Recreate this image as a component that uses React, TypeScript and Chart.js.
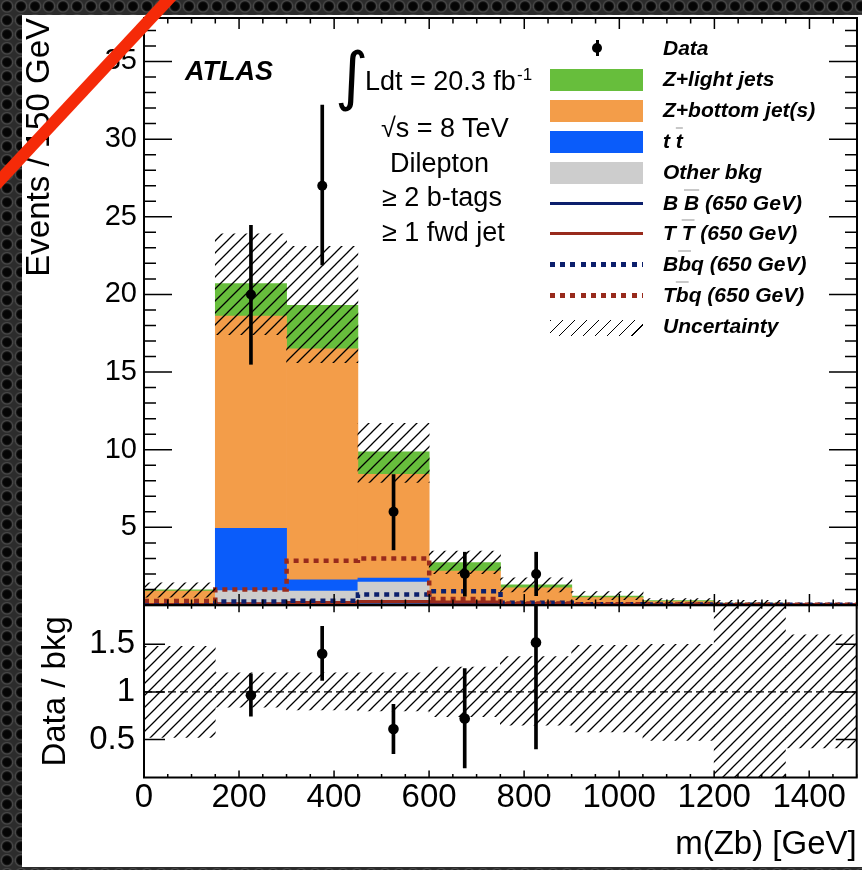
import React, { useEffect, useRef } from 'react';
import { Chart, registerables } from 'chart.js';
Chart.register(...registerables);

const FONT = "'Liberation Sans', Arial, Helvetica, sans-serif";

// ---- binning (GeV) ----
const binEdges = [0, 150, 300, 450, 600, 750, 900, 1050, 1200, 1350, 1500];
const binCenters = [75, 225, 375, 525, 675, 825, 975, 1125, 1275, 1425];

// ---- stacked backgrounds (events / bin) ----
const otherBkg = [0.05, 0.93, 0.89, 1.47, 0.10, 0.05, 0.02, 0.01, 0.01, 0.00];
const ttbar = [0.02, 4.01, 0.73, 0.27, 0.05, 0.03, 0.01, 0.00, 0.00, 0.00];
const zBottom = [0.82, 13.66, 14.88, 6.68, 2.04, 1.02, 0.44, 0.21, 0.08, 0.04];
const zLight = [0.08, 2.09, 2.80, 1.45, 0.54, 0.20, 0.11, 0.06, 0.03, 0.01];

// ---- total background uncertainty band ----
const uncLow = [0.50, 17.4, 15.6, 7.9, 2.02, 0.85, 0.34, 0.14, 0.0, 0.02];
const uncHigh = [1.42, 23.9, 23.1, 11.7, 3.48, 1.75, 0.87, 0.42, 0.3, 0.08];

// ---- signals (650 GeV) ----
const sigBB = [0.02, 0.05, 0.12, 0.18, 0.15, 0.08, 0.04, 0.02, 0.01, 0.01];
const sigTT = [0.03, 0.08, 0.16, 0.22, 0.20, 0.10, 0.04, 0.02, 0.01, 0.01];
const sigBbq = [0.05, 0.22, 0.28, 0.68, 0.88, 0.15, 0.05, 0.03, 0.02, 0.01];
const sigTbq = [0.25, 1.00, 2.85, 3.00, 0.38, 0.10, 0.05, 0.03, 0.02, 0.01];

// ---- data ----
const dataX = [225, 375, 525, 675, 825];
const dataY = [20, 27, 6, 2, 2];
const dataLow = [15.5, 21.9, 3.55, 0.57, 0.6];
const dataHigh = [24.45, 32.2, 8.4, 3.4, 3.4];

// ---- ratio panel ----
const ratioY = [0.965, 1.40, 0.61, 0.72, 1.52];
const ratioLow = [0.745, 1.12, 0.35, 0.20, 0.40];
const ratioHigh = [1.19, 1.69, 0.87, 1.245, 2.4];
const ratioBandLow = [0.52, 0.84, 0.81, 0.80, 0.74, 0.65, 0.58, 0.49, 0.0, 0.41];
const ratioBandHigh = [1.48, 1.20, 1.20, 1.20, 1.26, 1.37, 1.49, 1.50, 2.5, 1.60];

// ---- ticks ----
const xTickLabels = [0, 200, 400, 600, 800, 1000, 1200, 1400];
const yTicksUpper = [5, 10, 15, 20, 25, 30, 35];
const yTicksLower = [0.5, 1, 1.5];

const COL = {
  green: '#67be3c',
  orange: '#f39d49',
  blue: '#0a5cfa',
  gray: '#cdcdcd',
  navy: '#0c1f6c',
  red: '#982a1c',
};

function makeHatch(): CanvasPattern {
  const s = 12;
  const c = document.createElement('canvas');
  c.width = s;
  c.height = s;
  const g = c.getContext('2d')!;
  g.strokeStyle = '#000';
  g.lineWidth = 1.3;
  g.beginPath();
  g.moveTo(-2, s + 2); g.lineTo(s + 2, -2);
  g.moveTo(-2, 2); g.lineTo(2, -2);
  g.moveTo(s - 2, s + 2); g.lineTo(s + 2, s - 2);
  g.stroke();
  return g.createPattern(c, 'repeat')!;
}

type FrameCfg = {
  xMajor: number[]; xMinor: number[]; xMajorLen: number; xMinorLen: number;
  yMajor: number[]; yMinor: number[]; yMajorLen: number; yMinorLen: number;
};

const range = (a: number, b: number, st: number) => {
  const out: number[] = [];
  for (let v = a; v <= b + 1e-9; v += st) out.push(Math.round(v * 1000) / 1000);
  return out;
};

function framePlugin(cfg: FrameCfg) {
  return {
    id: 'rootFrame',
    afterDatasetsDraw(chart: any) {
      const { ctx, chartArea: a } = chart;
      const xs = chart.scales.x;
      const ys = chart.scales.y;
      ctx.save();
      ctx.strokeStyle = '#000';
      ctx.lineWidth = 1.5;
      ctx.beginPath();
      const vt = (v: number, len: number) => {
        const p = xs.getPixelForValue(v);
        ctx.moveTo(p, a.bottom); ctx.lineTo(p, a.bottom - len);
        ctx.moveTo(p, a.top); ctx.lineTo(p, a.top + len);
      };
      const ht = (v: number, len: number) => {
        const p = ys.getPixelForValue(v);
        if (p < a.top - 0.5 || p > a.bottom + 0.5) return;
        ctx.moveTo(a.left, p); ctx.lineTo(a.left + len, p);
        ctx.moveTo(a.right, p); ctx.lineTo(a.right - len, p);
      };
      cfg.xMinor.forEach((v) => vt(v, cfg.xMinorLen));
      cfg.xMajor.forEach((v) => vt(v, cfg.xMajorLen));
      cfg.yMinor.forEach((v) => ht(v, cfg.yMinorLen));
      cfg.yMajor.forEach((v) => ht(v, cfg.yMajorLen));
      ctx.stroke();
      ctx.lineWidth = 2;
      ctx.strokeRect(a.left, a.top, a.right - a.left, a.bottom - a.top);
      ctx.restore();
    },
  };
}

const stepData = (vals: number[]) =>
  binEdges.map((e, i) => ({ x: e, y: vals[Math.min(i, vals.length - 1)] }));

const barDs = (vals: number[], color: string, stack: string) => ({
  type: 'bar' as const,
  data: binCenters.map((x, i) => ({ x, y: vals[i] })),
  backgroundColor: color,
  borderWidth: 0,
  stack,
  grouped: false,
  barPercentage: 1,
  categoryPercentage: 1,
});

const lineDs = (vals: number[], color: string, width: number, dash: number[], stack: string) => ({
  type: 'line' as const,
  data: stepData(vals),
  borderColor: color,
  borderWidth: width,
  borderDash: dash,
  borderCapStyle: 'butt' as const,
  stepped: 'before' as const,
  pointRadius: 0,
  fill: false,
  stack,
});

const fixY = (w: number) => (s: any) => { s.width = w; s.paddingTop = 0; s.paddingBottom = 0; };

export default function App() {
  const upRef = useRef<HTMLCanvasElement>(null);
  const loRef = useRef<HTMLCanvasElement>(null);

  useEffect(() => {
    Chart.defaults.font.family = FONT;
    Chart.defaults.color = '#000';
    const hatch = makeHatch();

    const upper = new Chart(upRef.current!, {
      type: 'bar',
      data: {
        datasets: [
          {
            type: 'line',
            data: dataX.map((x, i) => ({ x, y: dataY[i] })),
            showLine: false,
            pointRadius: 5,
            pointBackgroundColor: '#000',
            pointBorderColor: '#000',
            pointBorderWidth: 0,
            stack: 'pts',
          },
          {
            type: 'bar',
            data: dataX.map((x, i) => ({ x, y: [dataLow[i], dataHigh[i]] })),
            backgroundColor: '#000',
            borderWidth: 0,
            barThickness: 3,
            grouped: false,
            stack: 'err',
          },
          {
            type: 'bar',
            data: binCenters.map((x, i) => ({ x, y: [uncLow[i], uncHigh[i]] })),
            backgroundColor: hatch,
            borderWidth: 0,
            grouped: false,
            barPercentage: 1,
            categoryPercentage: 1,
            stack: 'unc',
          },
          lineDs(sigTbq, COL.red, 4.5, [5, 5], 'tbq'),
          lineDs(sigBbq, COL.navy, 4.5, [5, 5], 'bbq'),
          lineDs(sigTT, COL.red, 3, [], 'tt'),
          lineDs(sigBB, COL.navy, 3, [], 'bb'),
          barDs(otherBkg, COL.gray, 'bg'),
          barDs(ttbar, COL.blue, 'bg'),
          barDs(zBottom, COL.orange, 'bg'),
          barDs(zLight, COL.green, 'bg'),
        ] as any,
      },
      options: {
        animation: false,
        responsive: false,
        devicePixelRatio: 1,
        events: [],
        layout: { padding: { top: 18, right: 4, bottom: 4, left: 0 } },
        plugins: { legend: { display: false }, tooltip: { enabled: false } },
        scales: {
          x: {
            type: 'linear', min: 0, max: 1500, offset: false, display: false,
            grid: { display: false, offset: false },
            ticks: { stepSize: 200 },
            afterBuildTicks: (s: any) => { s.ticks = xTickLabels.map((v) => ({ value: v })); },
          },
          y: {
            type: 'linear', min: 0, max: 37.8, stacked: true,
            grid: { display: false, drawTicks: false },
            border: { display: false },
            afterFit: fixY(144),
            afterBuildTicks: (s: any) => { s.ticks = yTicksUpper.map((v) => ({ value: v })); },
            ticks: { font: { size: 29, family: FONT }, color: '#000', padding: 7, autoSkip: false, callback: (v: any) => String(v) },
            title: {
              display: true, text: 'Events / 150 GeV', align: 'end', color: '#000',
              font: { size: 33, family: FONT }, padding: { top: 20, bottom: 0 },
            },
          },
        } as any,
      },
      plugins: [framePlugin({
        xMajor: xTickLabels, xMinor: range(0, 1500, 50), xMajorLen: 11, xMinorLen: 5.5,
        yMajor: range(0, 35, 5), yMinor: range(0, 37, 1), yMajorLen: 28, yMinorLen: 12,
      })],
    });

    const lower = new Chart(loRef.current!, {
      type: 'bar',
      data: {
        datasets: [
          {
            type: 'line',
            data: dataX.map((x, i) => ({ x, y: ratioY[i] })),
            showLine: false,
            pointRadius: 5.3,
            pointBackgroundColor: '#000',
            pointBorderColor: '#000',
            pointBorderWidth: 0,
          },
          {
            type: 'bar',
            data: dataX.map((x, i) => ({ x, y: [ratioLow[i], ratioHigh[i]] })),
            backgroundColor: '#000',
            borderWidth: 0,
            barThickness: 3,
            grouped: false,
            stack: 'err',
          },
          {
            type: 'line',
            data: [{ x: 0, y: 1 }, { x: 1500, y: 1 }],
            borderColor: '#000',
            borderWidth: 1.3,
            borderDash: [8, 4],
            pointRadius: 0,
            fill: false,
          },
          {
            type: 'bar',
            data: binCenters.map((x, i) => ({ x, y: [ratioBandLow[i], ratioBandHigh[i]] })),
            backgroundColor: hatch,
            borderWidth: 0,
            grouped: false,
            barPercentage: 1,
            categoryPercentage: 1,
            stack: 'unc',
          },
        ] as any,
      },
      options: {
        animation: false,
        responsive: false,
        devicePixelRatio: 1,
        events: [],
        layout: { padding: { top: 5, right: 4, bottom: 0, left: 0 } },
        plugins: { legend: { display: false }, tooltip: { enabled: false } },
        scales: {
          x: {
            type: 'linear', min: 0, max: 1500, offset: false,
            grid: { display: false, drawTicks: false, offset: false },
            border: { display: false },
            afterFit: (s: any) => { s.height = 92.5; s.paddingLeft = 0; s.paddingRight = 0; },
            afterBuildTicks: (s: any) => { s.ticks = xTickLabels.map((v) => ({ value: v })); },
            ticks: { font: { size: 33, family: FONT }, color: '#000', padding: 1, autoSkip: false, maxRotation: 0, callback: (v: any) => String(v) },
            title: {
              display: true, text: 'm(Zb) [GeV]', align: 'end', color: '#000',
              font: { size: 33, family: FONT }, padding: { top: 0, bottom: 5 },
            },
          },
          y: {
            type: 'linear', min: 0.1, max: 1.91,
            grid: { display: false, drawTicks: false },
            border: { display: false },
            afterFit: fixY(144),
            afterBuildTicks: (s: any) => { s.ticks = yTicksLower.map((v) => ({ value: v })); },
            ticks: { font: { size: 33, family: FONT }, color: '#000', padding: 9, autoSkip: false, callback: (v: any) => String(v) },
            title: {
              display: true, text: 'Data / bkg', align: 'center', color: '#000',
              font: { size: 33, family: FONT }, padding: { top: 36, bottom: 0 },
            },
          },
        } as any,
      },
      plugins: [framePlugin({
        xMajor: xTickLabels, xMinor: range(0, 1500, 50), xMajorLen: 7, xMinorLen: 3.5,
        yMajor: yTicksLower, yMinor: [], yMajorLen: 21, yMinorLen: 0,
      })],
    });

    return () => { upper.destroy(); lower.destroy(); };
  }, []);

  const txt = (s: React.CSSProperties): React.CSSProperties => ({
    position: 'absolute', whiteSpace: 'nowrap', fontFamily: FONT, color: '#000',
    transform: 'translateY(-50%)', ...s,
  });
  const legText = (top: number): React.CSSProperties =>
    txt({ left: 663, top, fontSize: 21, fontWeight: 'bold', fontStyle: 'italic' });
  const faint: React.CSSProperties = { textDecoration: 'overline', textDecorationColor: '#c8c8c8' };
  const box = (top: number, color: string): React.CSSProperties => ({
    position: 'absolute', left: 550, top: top - 11, width: 93, height: 22, background: color,
  });
  const line = (top: number, color: string, h: number, dotted: boolean): React.CSSProperties => ({
    position: 'absolute', left: 550, top: top - h / 2, width: 93, height: h,
    background: dotted ? `repeating-linear-gradient(90deg, ${color} 0 5px, transparent 5px 10.2px)` : color,
  });

  return (
    <div style={{
      position: 'fixed', left: 0, top: 0, width: 862, height: 870, overflow: 'hidden',
      backgroundColor: '#2a2a2a',
      backgroundImage: 'radial-gradient(circle at 50% 45%, #050505 0 3.5px, #151515 4.5px, #4a4a4a 5.6px, #2c2c2c 7px)',
      backgroundSize: '14px 14px',
    }}>
      <div style={{ position: 'absolute', left: 22, top: 15, width: 840, height: 852, background: '#fff' }} />
      <canvas ref={upRef} width={862} height={610} style={{ position: 'absolute', left: 0, top: 0, width: 862, height: 610 }} />
      <canvas ref={loRef} width={862} height={270} style={{ position: 'absolute', left: 0, top: 600, width: 862, height: 270 }} />

      {/* ATLAS label and annotations */}
      <div style={txt({ left: 185, top: 71, fontSize: 27, fontWeight: 'bold', fontStyle: 'italic' })}>ATLAS</div>
      <div style={txt({ left: 335, top: 76, fontSize: 64, fontFamily: "'DejaVu Sans', sans-serif" })}>∫</div>
      <div style={txt({ left: 365, top: 81, fontSize: 27 })}>Ldt = 20.3 fb</div>
      <div style={txt({ left: 517, top: 75, fontSize: 17 })}>-1</div>
      <div style={txt({ left: 381, top: 128, fontSize: 27 })}>√s = 8 TeV</div>
      <div style={txt({ left: 390, top: 163, fontSize: 27 })}>Dilepton</div>
      <div style={txt({ left: 382, top: 197, fontSize: 27 })}>≥ 2 b-tags</div>
      <div style={txt({ left: 382, top: 232, fontSize: 27 })}>≥ 1 fwd jet</div>

      {/* legend */}
      <div style={{ position: 'absolute', left: 595.5, top: 40, width: 3, height: 16, background: '#000' }} />
      <div style={{ position: 'absolute', left: 592, top: 43.3, width: 10, height: 10, borderRadius: 5, background: '#000' }} />
      <div style={legText(48)}>Data</div>

      <div style={box(79.5, COL.green)} />
      <div style={legText(79)}>Z+light jets</div>

      <div style={box(110.5, COL.orange)} />
      <div style={legText(110)}>Z+bottom jet(s)</div>

      <div style={box(141.8, COL.blue)} />
      <div style={legText(141)}>t <span style={faint}>t</span></div>

      <div style={box(172.8, COL.gray)} />
      <div style={legText(172)}>Other bkg</div>

      <div style={line(203.3, COL.navy, 3.5, false)} />
      <div style={legText(203)}>B <span style={faint}>B</span> (650 GeV)</div>

      <div style={line(233.3, COL.red, 3.5, false)} />
      <div style={legText(233)}>T <span style={faint}>T</span> (650 GeV)</div>

      <div style={line(264.3, COL.navy, 4.5, true)} />
      <div style={legText(264)}>B<span style={faint}>b</span>q (650 GeV)</div>

      <div style={line(295.7, COL.red, 4.5, true)} />
      <div style={legText(295)}>T<span style={faint}>b</span>q (650 GeV)</div>

      <div style={{
        position: 'absolute', left: 550, top: 320, width: 93, height: 16,
        background: 'repeating-linear-gradient(135deg, #000 0 1.3px, transparent 1.3px 8.5px)',
      }} />
      <div style={legText(326)}>Uncertainty</div>

      {/* red pen stroke */}
      <div style={{
        position: 'absolute', left: 84 - 135, top: 90 - 6, width: 270, height: 12,
        background: '#f52a08', transform: 'rotate(-47deg)', borderRadius: 4,
      }} />
    </div>
  );
}
